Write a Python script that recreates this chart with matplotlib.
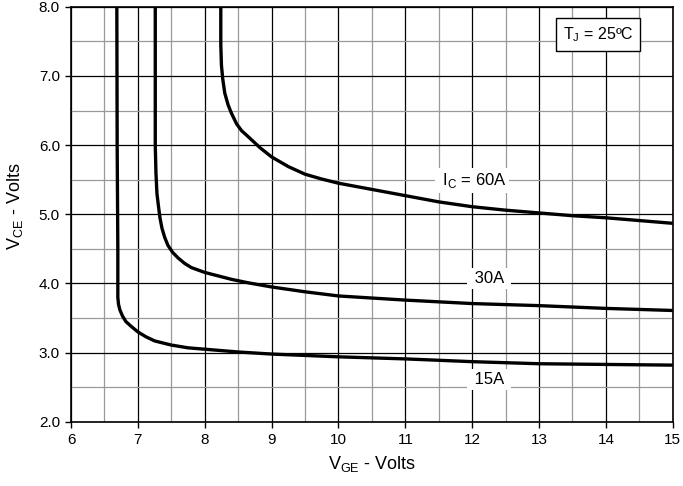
import matplotlib.pyplot as plt
from matplotlib.ticker import MultipleLocator

plt.rcParams['font.family'] = ['Liberation Sans', 'DejaVu Sans']
plt.rcParams['mathtext.fontset'] = 'custom'
plt.rcParams['mathtext.rm'] = 'Liberation Sans'

# I_C = 15A
vge_15 = [6.685, 6.69, 6.70, 6.70, 6.71, 6.73, 6.77, 6.82, 6.9, 7.0, 7.12, 7.25, 7.5, 7.75,
          8.0, 8.5, 9.0, 10.0, 11.0, 12.0, 13.0, 14.0, 15.0]
vce_15 = [8.0, 6.0, 4.5, 3.8, 3.7, 3.62, 3.53, 3.45, 3.38, 3.30, 3.23, 3.17, 3.11, 3.07,
          3.05, 3.01, 2.98, 2.94, 2.91, 2.87, 2.84, 2.83, 2.82]

# I_C = 30A
vge_30 = [7.26, 7.26, 7.27, 7.285, 7.31, 7.33, 7.36, 7.40, 7.45, 7.52, 7.6, 7.7, 7.8, 8.0,
          8.2, 8.4, 8.65, 9.0, 9.5, 10.0, 10.5, 11.0, 12.0, 13.0, 14.0, 15.0]
vce_30 = [8.0, 6.0, 5.6, 5.3, 5.1, 4.95, 4.80, 4.67, 4.55, 4.45, 4.37, 4.29, 4.23, 4.16,
          4.11, 4.06, 4.01, 3.95, 3.88, 3.82, 3.79, 3.76, 3.71, 3.68, 3.64, 3.61]

# I_C = 60A
vge_60 = [8.24, 8.24, 8.25, 8.27, 8.3, 8.35, 8.4, 8.475, 8.55, 8.675, 8.83, 9.0, 9.25, 9.5, 9.75,
          10.0, 10.5, 11.0, 11.5, 12.0, 12.5, 13.0, 13.5, 14.0, 14.5, 15.0]
vce_60 = [8.0, 7.45, 7.15, 6.95, 6.75, 6.58, 6.46, 6.31, 6.21, 6.10, 5.96, 5.83, 5.69, 5.58, 5.51,
          5.45, 5.36, 5.27, 5.18, 5.11, 5.06, 5.02, 4.98, 4.95, 4.91, 4.87]

fig = plt.figure(figsize=(6.83, 4.86), dpi=100)
ax = fig.add_axes([0.104, 0.132, 0.881, 0.854])

for xs, ys in [(vge_15, vce_15), (vge_30, vce_30), (vge_60, vce_60)]:
    ax.plot(xs, ys, color='black', lw=2.4, solid_capstyle='butt', solid_joinstyle='round')

ax.set_xlim(6, 15)
ax.set_ylim(2.0, 8.0)
ax.xaxis.set_major_locator(MultipleLocator(1))
ax.xaxis.set_minor_locator(MultipleLocator(0.5))
ax.yaxis.set_major_locator(MultipleLocator(1))
ax.yaxis.set_minor_locator(MultipleLocator(0.5))
ax.set_yticklabels([f'{v:.1f}' for v in ax.get_yticks()])
ax.grid(which='major', color='black', lw=0.9)
ax.grid(which='minor', color='#999999', lw=0.9)
ax.set_axisbelow(True)
ax.tick_params(which='major', direction='out', length=4, width=1, labelsize=11, pad=4)
ax.tick_params(which='minor', length=0)
for s in ax.spines.values():
    s.set_linewidth(1.2)

ax.set_xlabel(r'V$_{\mathregular{GE}}$ - Volts', fontsize=13, labelpad=5)
ax.set_ylabel(r'V$_{\mathregular{CE}}$ - Volts', fontsize=13)
ax.yaxis.set_label_coords(-0.076, 0.52)

box = dict(facecolor='white', edgecolor='none', pad=2)
ax.text(12.0, 5.49, r' I$_{\mathregular{C}}$ = 60A ', fontsize=12, ha='center', va='center', bbox=box)
ax.text(12.25, 4.07, ' 30A ', fontsize=12, ha='center', va='center', bbox=box)
ax.text(12.25, 2.61, ' 15A ', fontsize=12, ha='center', va='center', bbox=box)
ax.text(13.88, 7.6, r'T$_{\mathregular{J}}$ = 25ºC', fontsize=11.5, ha='center', va='center',
        bbox=dict(facecolor='white', edgecolor='black', lw=1, pad=5))

fig.savefig('out.png', dpi=100)
